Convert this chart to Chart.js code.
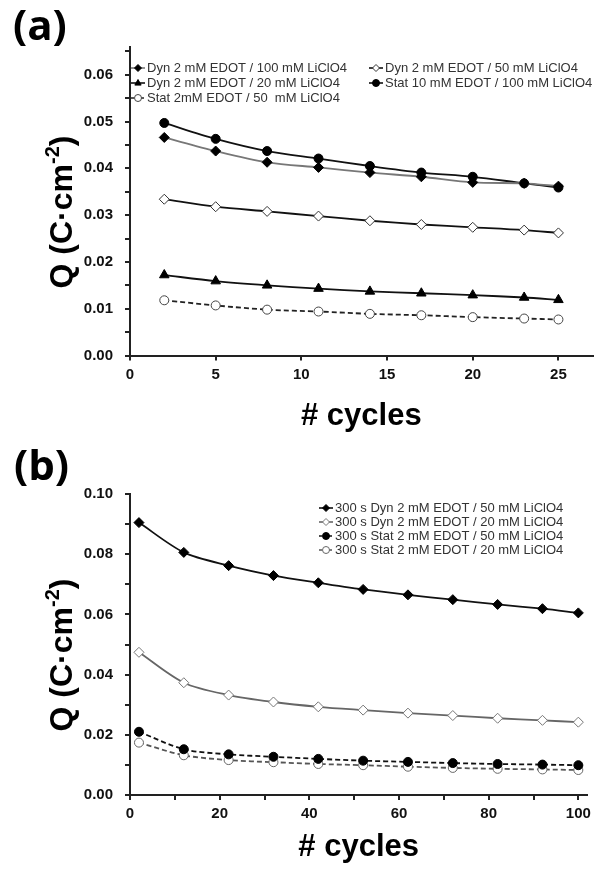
<!DOCTYPE html>
<html lang="en">
<head>
  <meta charset="UTF-8" />
  <title>Q vs cycles</title>
  <script src="https://cdn.jsdelivr.net/npm/chart.js"></script>
  <style>
    body { margin: 0; background: #fff; }
    .wrap { position: relative; width: 602px; height: 879px; }
    .lbl { position: absolute; font: bold 42px "Open Sans", sans-serif; line-height: 42px; color: #000; }
    canvas { position: absolute; left: 0; }
  </style>
</head>
<body>
  <div class="wrap">
    <canvas id="chartA" width="602" height="440" style="top:0"></canvas>
    <canvas id="chartB" width="602" height="439" style="top:440px"></canvas>
    <div class="lbl" style="left:13px; top:3px">(a)</div>
    <div class="lbl" style="left:14px; top:443px">(b)</div>
  </div>

  <script>
    // panel (a)
    const cyclesA = [2, 5, 8, 11, 14, 17, 20, 23, 25];
    const dyn100 = [0.0466, 0.0437, 0.0413, 0.0402, 0.0391, 0.0382, 0.0370, 0.0368, 0.0362];
    const dyn50 = [0.0334, 0.0318, 0.0308, 0.0298, 0.0288, 0.0280, 0.0274, 0.0268, 0.0262];
    const dyn20 = [0.0172, 0.0159, 0.0150, 0.0143, 0.0137, 0.0133, 0.0129, 0.0124, 0.0119];
    const stat10 = [0.0497, 0.0463, 0.0437, 0.0421, 0.0405, 0.0391, 0.0382, 0.0368, 0.0359];
    const stat2 = [0.0118, 0.0107, 0.0098, 0.0094, 0.0089, 0.0086, 0.0082, 0.0079, 0.0077];

    // panel (b)
    const cyclesB = [2, 12, 22, 32, 42, 52, 62, 72, 82, 92, 100];
    const dyn50_300 = [0.0905, 0.0806, 0.0762, 0.0729, 0.0705, 0.0683, 0.0665, 0.0649, 0.0633, 0.0619, 0.0605];
    const dyn20_300 = [0.0474, 0.0373, 0.0332, 0.0309, 0.0293, 0.0282, 0.0272, 0.0264, 0.0255, 0.0248, 0.0242];
    const stat50_300 = [0.0210, 0.0152, 0.0135, 0.0127, 0.0120, 0.0114, 0.0110, 0.0106, 0.0103, 0.0101, 0.0099];
    const stat20_300 = [0.0174, 0.0132, 0.0116, 0.0109, 0.0103, 0.0099, 0.0094, 0.0090, 0.0087, 0.0085, 0.0083];

    Chart.defaults.font.family = '"Liberation Sans", Arial, sans-serif';
    Chart.defaults.color = '#111';

    const pts = (xs, ys) => xs.map((x, i) => ({ x: x, y: ys[i] }));

    function series(label, xs, ys, o) {
      return {
        label: label,
        data: pts(xs, ys),
        borderColor: o.line,
        borderWidth: 1.8,
        borderDash: o.dash ? [5, 3] : [],
        tension: 0.3,
        pointStyle: o.style,
        pointRadius: o.r || 4.5,
        pointBackgroundColor: o.fill,
        pointBorderColor: o.edge || '#000',
        pointBorderWidth: 1,
        fill: false
      };
    }

    function drawMarker(ctx, style, x, y, r) {
      ctx.beginPath();
      if (style === 'circle') {
        ctx.arc(x, y, r, 0, Math.PI * 2);
      } else if (style === 'rectRot') {
        ctx.moveTo(x, y - r); ctx.lineTo(x + r, y); ctx.lineTo(x, y + r); ctx.lineTo(x - r, y);
      } else if (style === 'triangle') {
        ctx.moveTo(x, y - r); ctx.lineTo(x + r * 0.9, y + r * 0.6); ctx.lineTo(x - r * 0.9, y + r * 0.6);
      }
      ctx.closePath();
      ctx.fill();
      ctx.stroke();
    }

    // legend inside the plot + y title with superscript
    const decor = {
      id: 'decor',
      afterDraw(chart, args, opts) {
        const ctx = chart.ctx;
        ctx.save();
        ctx.font = '13px "Liberation Sans", Arial, sans-serif';
        ctx.textBaseline = 'middle';
        chart.data.datasets.forEach((ds, i) => {
          const p = opts.legend[i];
          ctx.strokeStyle = ds.borderColor;
          ctx.lineWidth = 1.6;
          ctx.setLineDash(ds.borderDash.length ? [3, 2] : []);
          ctx.beginPath();
          ctx.moveTo(p[0], p[1]);
          ctx.lineTo(p[0] + 14, p[1]);
          ctx.stroke();
          ctx.setLineDash([]);
          ctx.fillStyle = ds.pointBackgroundColor;
          ctx.strokeStyle = ds.pointBorderColor;
          ctx.lineWidth = 1;
          drawMarker(ctx, ds.pointStyle, p[0] + 7, p[1], 3.5);
          ctx.fillStyle = '#333';
          ctx.fillText(ds.label, p[0] + 16, p[1]);
        });

        // y axis title
        ctx.translate(opts.titleX, opts.titleY);
        ctx.rotate(-Math.PI / 2);
        ctx.fillStyle = '#000';
        ctx.textBaseline = 'alphabetic';
        const big = 'bold 32px "Liberation Sans", Arial, sans-serif';
        const small = 'bold 20px "Liberation Sans", Arial, sans-serif';
        ctx.font = big;
        const w1 = ctx.measureText('Q (C\u00B7cm').width;
        const w3 = ctx.measureText(')').width;
        ctx.font = small;
        const w2 = ctx.measureText('-2').width;
        let x = -(w1 + w2 + w3) / 2;
        ctx.font = big;
        ctx.fillText('Q (C\u00B7cm', x, 0);
        x += w1;
        ctx.font = small;
        ctx.fillText('-2', x, -13);
        x += w2;
        ctx.font = big;
        ctx.fillText(')', x, 0);
        ctx.restore();
      }
    };

    // ticks every `step` from 0 up to the axis max
    function stepTicks(step) {
      return scale => {
        const out = [];
        for (let k = 0; k * step <= scale.max + 1e-9; k++) {
          out.push({ value: +(k * step).toFixed(6) });
        }
        scale.ticks = out;
      };
    }

    const isMult = (v, m) => Math.abs(v / m - Math.round(v / m)) < 1e-6;

    function axes(o) {
      const tickFont = { size: 15, weight: 'bold' };
      return {
        x: {
          type: 'linear',
          min: 0,
          max: o.xMax,
          afterFit: s => { s.height = o.xH; },
          afterBuildTicks: stepTicks(o.xStep),
          border: { display: true, color: '#222', width: 2 },
          grid: { drawOnChartArea: false, drawTicks: true, tickLength: 5, color: '#222', lineWidth: 2 },
          ticks: {
            padding: 5,
            maxRotation: 0,
            autoSkip: false,
            font: tickFont,
            color: '#111',
            callback: v => (isMult(v, o.xLab) ? String(Math.round(v)) : '')
          },
          title: {
            display: true,
            text: '# cycles',
            color: '#000',
            font: { size: 31, weight: 'bold' },
            padding: { top: 0, bottom: o.titlePad }
          }
        },
        y: {
          min: 0,
          max: o.yMax,
          afterFit: s => { s.width = 130; },
          afterBuildTicks: stepTicks(o.yStep),
          border: { display: true, color: '#222', width: 2 },
          grid: { drawOnChartArea: false, drawTicks: true, tickLength: 5, color: '#222', lineWidth: 2 },
          ticks: {
            padding: 12,
            autoSkip: false,
            font: tickFont,
            color: '#111',
            callback: v => (isMult(v, o.yLab) ? v.toFixed(2) : '')
          }
        }
      };
    }

    new Chart(document.getElementById('chartA'), {
      type: 'line',
      data: {
        datasets: [
          series('Dyn 2 mM EDOT / 100 mM LiClO4', cyclesA, dyn100, { line: '#777', style: 'rectRot', fill: '#000', r: 5 }),
          series('Dyn 2 mM EDOT / 50 mM LiClO4', cyclesA, dyn50, { line: '#111', style: 'rectRot', fill: '#fff', edge: '#333', r: 5 }),
          series('Dyn 2 mM EDOT / 20 mM LiClO4', cyclesA, dyn20, { line: '#111', style: 'triangle', fill: '#000', r: 5.5 }),
          series('Stat 10 mM EDOT / 100 mM LiClO4', cyclesA, stat10, { line: '#111', style: 'circle', fill: '#000' }),
          series('Stat 2mM EDOT / 50  mM LiClO4', cyclesA, stat2, { line: '#222', style: 'circle', fill: '#fff', edge: '#444', dash: true })
        ]
      },
      options: {
        responsive: false,
        animation: false,
        devicePixelRatio: 1,
        layout: { padding: { top: 46.7, right: 9.3, left: 0, bottom: 0 } },
        plugins: {
          legend: { display: false },
          tooltip: { enabled: false },
          decor: {
            legend: [[131, 68], [369, 68], [131, 83], [369, 83], [131, 98]],
            titleX: 72, titleY: 212
          }
        },
        scales: axes({ xMax: 27, xStep: 5, xLab: 5, yMax: 0.066, yStep: 0.005, yLab: 0.01, xH: 84.5, titlePad: 4.5 })
      },
      plugins: [decor]
    });

    new Chart(document.getElementById('chartB'), {
      type: 'line',
      data: {
        datasets: [
          series('300 s Dyn 2 mM EDOT / 50 mM LiClO4', cyclesB, dyn50_300, { line: '#111', style: 'rectRot', fill: '#000', r: 5 }),
          series('300 s Dyn 2 mM EDOT / 20 mM LiClO4', cyclesB, dyn20_300, { line: '#666', style: 'rectRot', fill: '#fff', edge: '#777', r: 5 }),
          series('300 s Stat 2 mM EDOT / 50 mM LiClO4', cyclesB, stat50_300, { line: '#111', style: 'circle', fill: '#000', dash: true }),
          series('300 s Stat 2 mM EDOT / 20 mM LiClO4', cyclesB, stat20_300, { line: '#555', style: 'circle', fill: '#fff', edge: '#666', dash: true })
        ]
      },
      options: {
        responsive: false,
        animation: false,
        devicePixelRatio: 1,
        layout: { padding: { top: 54, right: 14.7, left: 0, bottom: 0 } },
        plugins: {
          legend: { display: false },
          tooltip: { enabled: false },
          decor: {
            legend: [[319, 68], [319, 82], [319, 96], [319, 110]],
            titleX: 72, titleY: 215
          }
        },
        scales: axes({ xMax: 102, xStep: 10, xLab: 20, yMax: 0.10, yStep: 0.01, yLab: 0.02, xH: 84, titlePad: 13 })
      },
      plugins: [decor]
    });
  </script>
</body>
</html>
